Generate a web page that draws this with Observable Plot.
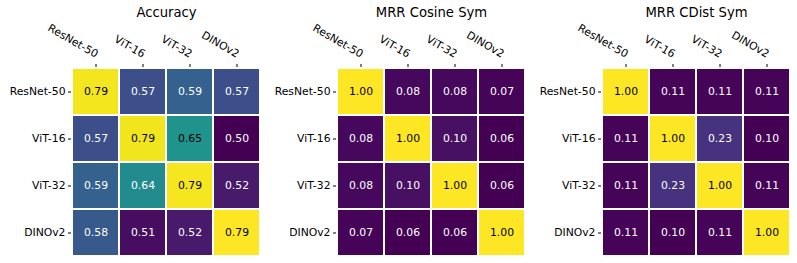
<!DOCTYPE html>
<html>
<head>
<meta charset="utf-8">
<script src="https://cdn.jsdelivr.net/npm/d3@7"></script>
<script src="https://cdn.jsdelivr.net/npm/@observablehq/plot@0.6"></script>
<style>
  body { margin: 0; background: white; }
  #wrap { position: relative; width: 797px; height: 263px; background: white; overflow: hidden; }
  .panel { position: absolute; top: 0; }
</style>
</head>
<body>
<div id="wrap"></div>
<script>
const models = ["ResNet-50", "ViT-16", "ViT-32", "DINOv2"];
const panelTitles = ["Accuracy", "MRR Cosine Sym", "MRR CDist Sym"];

const accuracy = [
  [0.787, 0.57, 0.59, 0.57],
  [0.57, 0.786, 0.65, 0.50],
  [0.59, 0.64, 0.788, 0.52],
  [0.58, 0.51, 0.52, 0.792]
];
const mrrCosine = [
  [1.00, 0.08, 0.08, 0.07],
  [0.08, 1.00, 0.10, 0.06],
  [0.08, 0.10, 1.00, 0.06],
  [0.07, 0.06, 0.06, 1.00]
];
const mrrCdist = [
  [1.00, 0.11, 0.11, 0.11],
  [0.11, 1.00, 0.23, 0.10],
  [0.11, 0.23, 1.00, 0.11],
  [0.11, 0.10, 0.11, 1.00]
];

const matrices = [accuracy, mrrCosine, mrrCdist];
const panelLefts = [0, 265, 530];
const FS = 10.8;

const wrap = document.getElementById("wrap");

matrices.forEach((m, i) => {
  const data = [];
  m.forEach((row, r) => row.forEach((v, c) => data.push({row: models[r], col: models[c], v})));
  const ext = d3.extent(data, d => d.v);
  const norm = v => (v - ext[0]) / (ext[1] - ext[0]);
  const dark = data.filter(d => norm(d.v) > 0.5);
  const light = data.filter(d => norm(d.v) <= 0.5);

  const plot = Plot.plot({
    width: 265,
    height: 263,
    marginLeft: 72,
    marginRight: 5,
    marginTop: 67,
    marginBottom: 7,
    style: {fontFamily: "DejaVu Sans", fontSize: FS + "px", background: "white", color: "black", overflow: "visible"},
    x: {domain: models, padding: 0, axis: null},
    y: {domain: models, padding: 0, axis: null},
    color: {type: "linear", scheme: "viridis", domain: ext},
    marks: [
      Plot.cell(data, {x: "col", y: "row", fill: "v", inset: 1}),
      Plot.text(dark, {x: "col", y: "row", text: d => d.v.toFixed(2), fill: "black", fontSize: FS}),
      Plot.text(light, {x: "col", y: "row", text: d => d.v.toFixed(2), fill: "white", fontSize: FS}),
      Plot.axisX({anchor: "top", tickSize: 3, tickFormat: () => "", dy: -1, label: null}),
      Plot.text(models, {x: d => d, frameAnchor: "top", rotate: 30, textAnchor: "end", lineAnchor: "bottom", dy: -9.5, dx: -0.5, fontSize: FS}),
      Plot.axisY({anchor: "left", tickSize: 3, tickPadding: 3, dx: -1, label: null, fontSize: FS}),
      Plot.text([panelTitles[i]], {frameAnchor: "top", lineAnchor: "middle", dy: -54.5, fontSize: 13.2})
    ]
  });
  plot.classList.add("panel");
  plot.style.left = panelLefts[i] + "px";
  wrap.appendChild(plot);
});
</script>
</body>
</html>
